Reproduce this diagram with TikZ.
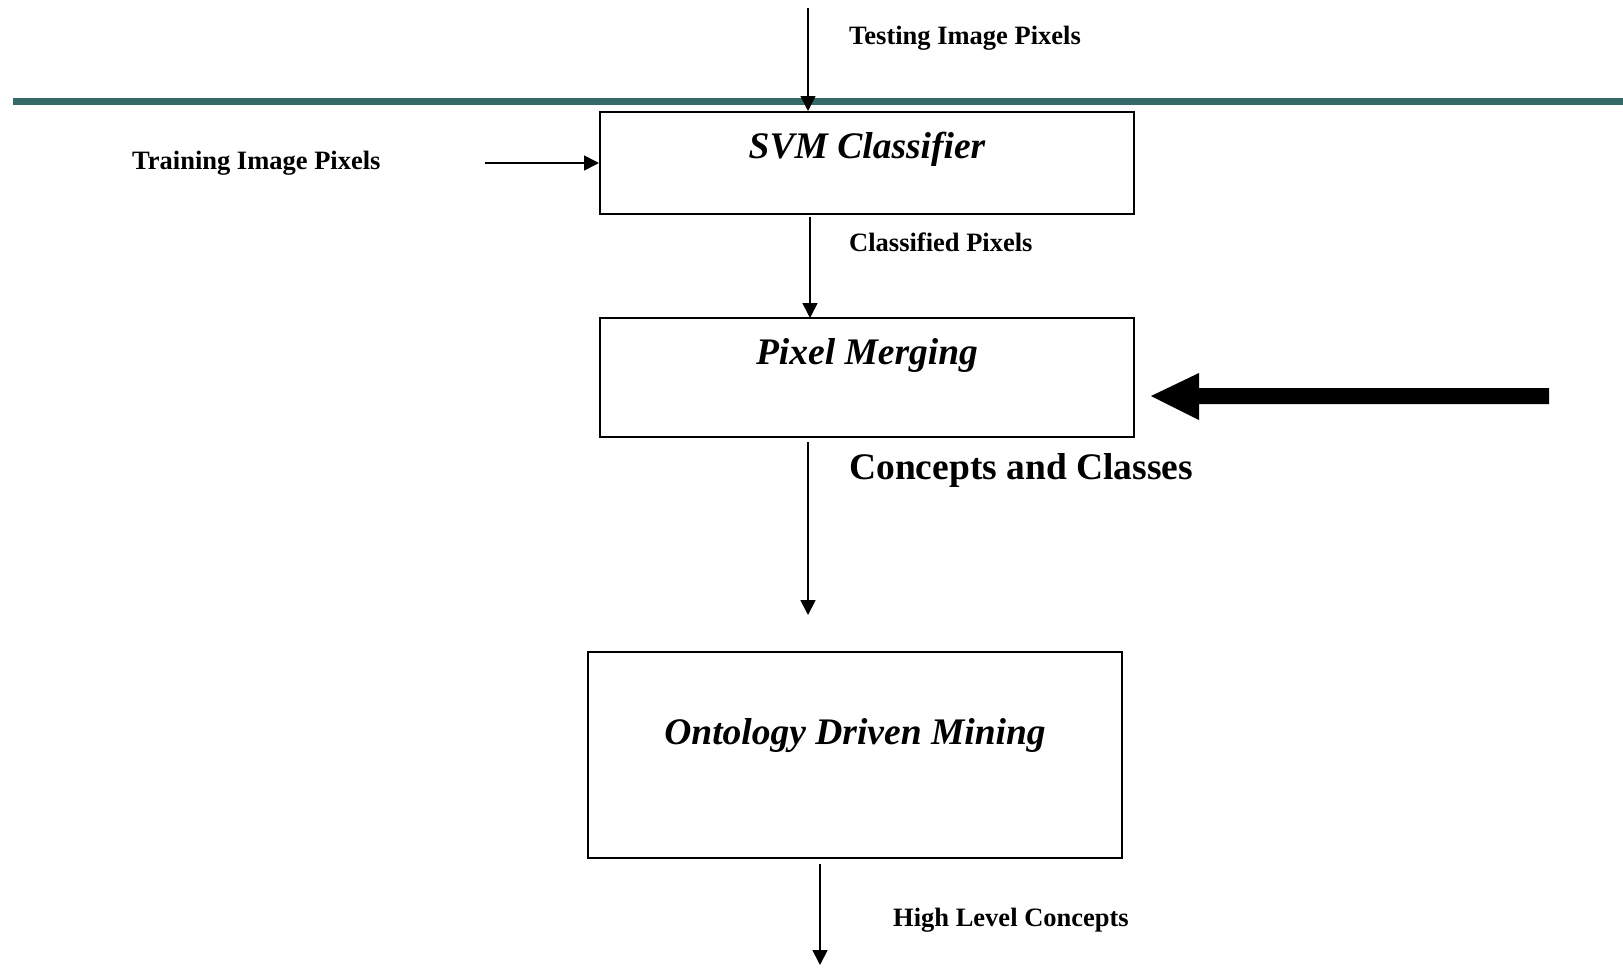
\documentclass[tikz,border=0pt]{standalone}
\usepackage{fontspec}
\setmainfont{Liberation Serif}
\usetikzlibrary{arrows.meta}
\definecolor{bandteal}{RGB}{52,107,104}
\tikzset{
  procbox/.style={draw=black, line width=2pt, fill=white},
  flow/.style={draw=black, line width=1.7pt, -{Triangle[length=15pt,width=15pt]}},
  smalllabel/.style={anchor=west, inner sep=0pt, font=\fontsize{26.5}{30}\selectfont\bfseries},
  biglabel/.style={anchor=west, inner sep=0pt, font=\fontsize{37.5}{42}\selectfont\bfseries},
  boxtitle/.style={inner sep=0pt, font=\fontsize{37.5}{42}\selectfont\bfseries\itshape},
}
\begin{document}
\begin{tikzpicture}[x=1pt, y=-1pt]
  \useasboundingbox (0,0) rectangle (1623,967);

  % separating band
  \fill[bandteal] (13,97.5) rectangle (1623,105);

  % process boxes
  \draw[procbox] (600,112) rectangle (1134,214);
  \coordinate (svmtop) at (808,111);
  \coordinate (svmleft) at (599,163);
  \coordinate (svmbot) at (810,217);
  \node[boxtitle] (svm) at (867,149.5) {SVM Classifier};

  \draw[procbox] (600,318) rectangle (1134,437);
  \coordinate (pmtop) at (810,318);
  \coordinate (pmbot) at (808,442);
  \node[boxtitle] (pm) at (867,355.5) {Pixel Merging};

  \draw[procbox] (588,652) rectangle (1122,858);
  \coordinate (odmbot) at (820,864);
  \node[boxtitle] (odm) at (855,736) {Ontology Driven Mining};

  % free connector ends
  \coordinate (testsrc) at (808,8);
  \coordinate (trainsrc) at (485,163);
  \coordinate (ccend) at (808,615);
  \coordinate (hlcend) at (820,965);
  \coordinate (bigtail) at (1549,396);
  \coordinate (bigtip) at (1151,396);

  % labels
  \node[smalllabel] (testlbl) at (849,38.5) {Testing Image Pixels};
  \node[smalllabel] (trainlbl) at (132,163.5) {Training Image Pixels};
  \node[smalllabel] (clslbl) at (849,242) {Classified Pixels};
  \node[biglabel] (cclbl) at (849,470) {Concepts and Classes};
  \node[smalllabel] (hlclbl) at (893,920) {High Level Concepts};

  % connectors
  \draw[flow] (testsrc) -- (svmtop);
  \draw[flow] (trainsrc) -- (svmleft);
  \draw[flow] (svmbot) -- (pmtop);
  \draw[flow] (pmbot) -- (ccend);
  \draw[flow] (odmbot) -- (hlcend);

  % heavy block arrow
  \fill[black] (bigtail) ++(0,-8) -- (1199,388) -- (1199,373) -- (bigtip)
               -- (1199,420) -- (1199,404) -- (1549,404) -- cycle;
\end{tikzpicture}
\end{document}
